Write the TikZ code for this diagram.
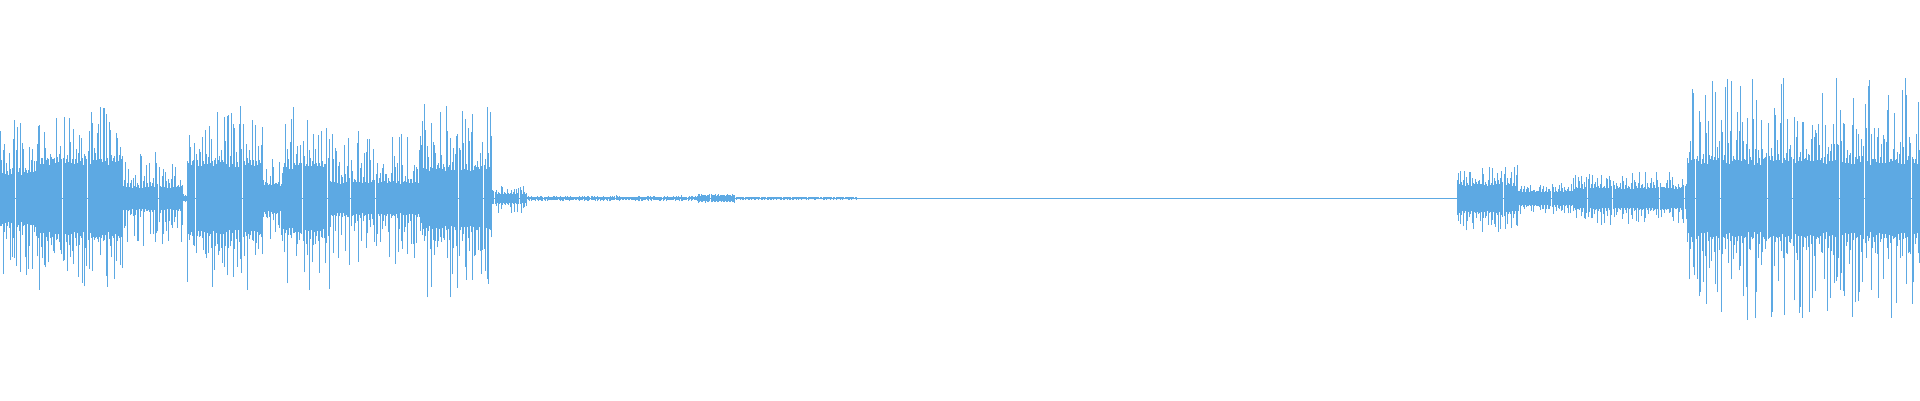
\documentclass[tikz,border=0pt]{standalone}
\definecolor{wavecol}{HTML}{5DA9E3}
\tikzset{wave/.style={wavecol, line width=0.45pt},
    wavecore/.style={wavecol, line width=1.3pt}}
\begin{document}
\begin{tikzpicture}[x=1.2245pt, y=1.2245pt]
    \useasboundingbox (0,0) rectangle (1568,326.7);
    \pgfmathsetseed{7}
    % baseline
    \draw[wave] (0,164.7) -- (1568,164.7);
    % segments: start/end/peak/core
    \foreach \xa/\xb/\pk/\co in {0/30/65/22, 30/100/75/32, 100/150/40/10,
        150/153/4/2, 153/215/80/30, 215/232/35/12, 232/270/75/28,
        270/345/55/14, 345/402/82/26, 402/430/12/4, 430/570/2.5/1,
        570/600/4/2.5, 600/700/1.5/0.8, 1190/1240/28/12, 1240/1285/13/6,
        1285/1378/22/9, 1378/1568/100/32}{
        \pgfmathsetmacro{\xs}{\xa+1.2}
        \foreach \x in {\xa,\xs,...,\xb}{
            \pgfmathsetmacro{\up}{\co+(\pk-\co)*rnd^2}
            \pgfmathsetmacro{\dn}{\co+(\pk-\co)*rnd^2}
            \pgfmathsetmacro{\cc}{\co*(0.85+0.15*rnd)}
            \draw[wave] (\x,164.7-\dn) -- (\x,164.7+\up);
            \draw[wavecore] (\x,164.7-\cc) -- (\x,164.7+\cc);
        }
    }
\end{tikzpicture}
\end{document}
